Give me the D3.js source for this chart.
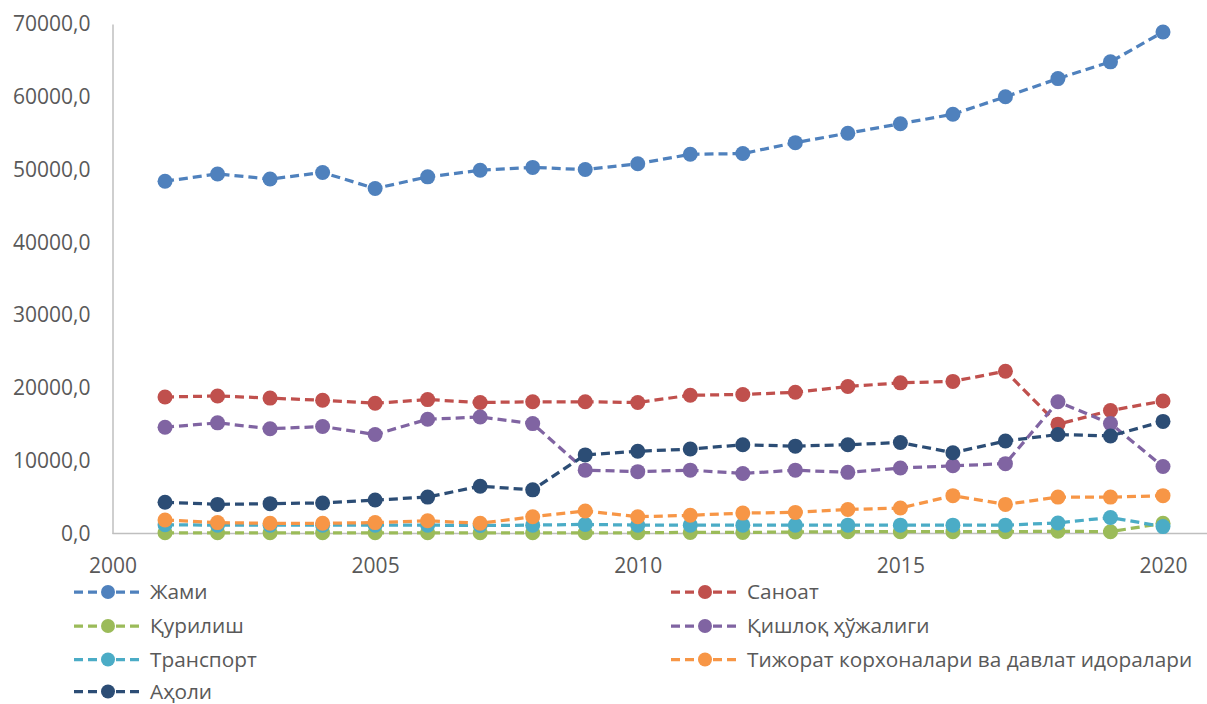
<!DOCTYPE html>
<html>
<head>
<meta charset="utf-8">
<script src="https://cdn.jsdelivr.net/npm/d3@7"></script>
<style>
  body { margin: 0; background: #fff; }
  text { font-family: "Open Sans", sans-serif; fill: #595959; }
</style>
</head>
<body>
<script>
var width = 1207, height = 704;

// data
const years = d3.range(2001, 2021);
const zhami     = [48400,49400,48700,49600,47400,49000,49900,50300,50000,50800,52100,52200,53700,55000,56300,57600,60000,62500,64800,68900];
const sanoat    = [18750,18900,18600,18300,17900,18400,18000,18100,18100,18000,19000,19100,19400,20200,20700,20900,22300,15000,16900,18200];
const qurilish  = [100,100,100,100,100,100,100,100,100,100,150,150,200,250,250,250,250,300,250,1400];
const qishloq   = [14600,15200,14400,14700,13600,15700,16000,15100,8700,8500,8700,8250,8700,8400,9000,9300,9600,18100,15100,9200];
const transport = [1200,1150,1150,1150,1150,1150,1100,1150,1250,1150,1150,1150,1150,1150,1150,1150,1150,1450,2200,950];
const tijorat   = [1850,1500,1400,1400,1500,1750,1400,2300,3100,2300,2500,2800,2900,3300,3500,5200,4000,5000,5000,5200];
const aholi     = [4300,4000,4100,4200,4600,5000,6500,6000,10800,11300,11600,12200,12000,12200,12500,11100,12700,13600,13400,15400];

const seriesNames  = ["Жами", "Саноат", "Қурилиш", "Қишлоқ ҳўжалиги", "Транспорт", "Тижорат корхоналари ва давлат идоралари", "Аҳоли"];
const seriesValues = [zhami, sanoat, qurilish, qishloq, transport, tijorat, aholi];
const seriesColors = ["#4f81bd", "#c0504d", "#9bbb59", "#8064a2", "#4bacc6", "#f79646", "#2c4d75"];

const xTicks = [2000, 2005, 2010, 2015, 2020];
const yTicks = d3.range(0, 70001, 10000);

var svg = d3.select('body').append('svg')
    .attr('width', width)
    .attr('height', height);

const x = d3.scaleLinear().domain([2000, 2020]).range([112.5, 1163]);
const y = d3.scaleLinear().domain([0, 70000]).range([533.5, 24]);

const fmt = d => d3.format(".1f")(d).replace(".", ",");

// y axis
const gy = svg.append('g')
    .attr('transform', 'translate(' + x(2000) + ',0)')
    .call(d3.axisLeft(y).tickValues(yTicks).tickFormat(fmt).tickSize(0).tickSizeOuter(0).tickPadding(22));
gy.select('.domain').attr('stroke', '#bfbfbf').attr('stroke-width', 1.5);
gy.selectAll('text').style('font-size', '21px').attr('fill', '#595959');

// x axis
const gx = svg.append('g')
    .attr('transform', 'translate(0,' + y(0) + ')')
    .call(d3.axisBottom(x).tickValues(xTicks).tickFormat(d3.format("d")).tickSize(0).tickPadding(25));
gx.select('.domain').remove();
gx.selectAll('text').style('font-size', '21px').attr('fill', '#595959');
gx.append('line')
    .attr('x1', x(2000)).attr('x2', 1207)
    .attr('stroke', '#bfbfbf').attr('stroke-width', 1.5);

// lines + markers, drawn in series order
const line = d3.line().x((d, i) => x(years[i])).y(d => y(d));

seriesValues.forEach(function (vals, k) {
    const g = svg.append('g');
    g.append('path')
        .datum(vals)
        .attr('d', line)
        .attr('fill', 'none')
        .attr('stroke', seriesColors[k])
        .attr('stroke-width', 3.25)
        .attr('stroke-dasharray', '9,5');
    g.selectAll('circle')
        .data(vals)
        .join('circle')
        .attr('cx', (d, i) => x(years[i]))
        .attr('cy', d => y(d))
        .attr('r', 7.5)
        .attr('fill', seriesColors[k]);
});

// legend, two columns
const legendCols = [74, 671];
const legendRows = [592, 626, 659.5, 691.5];
const legend = svg.append('g');
seriesNames.forEach(function (name, k) {
    const lx = legendCols[k % 2], ly = legendRows[Math.floor(k / 2)];
    const item = legend.append('g').attr('transform', 'translate(' + lx + ',' + ly + ')');
    item.append('line')
        .attr('x1', 0).attr('x2', 69)
        .attr('stroke', seriesColors[k])
        .attr('stroke-width', 3.25)
        .attr('stroke-dasharray', '9,5');
    item.append('circle')
        .attr('cx', 34).attr('r', 7)
        .attr('fill', seriesColors[k]);
    item.append('text')
        .attr('x', 76)
        .attr('dy', '0.35em')
        .style('font-size', '20.8px')
        .text(name);
});
</script>
</body>
</html>
